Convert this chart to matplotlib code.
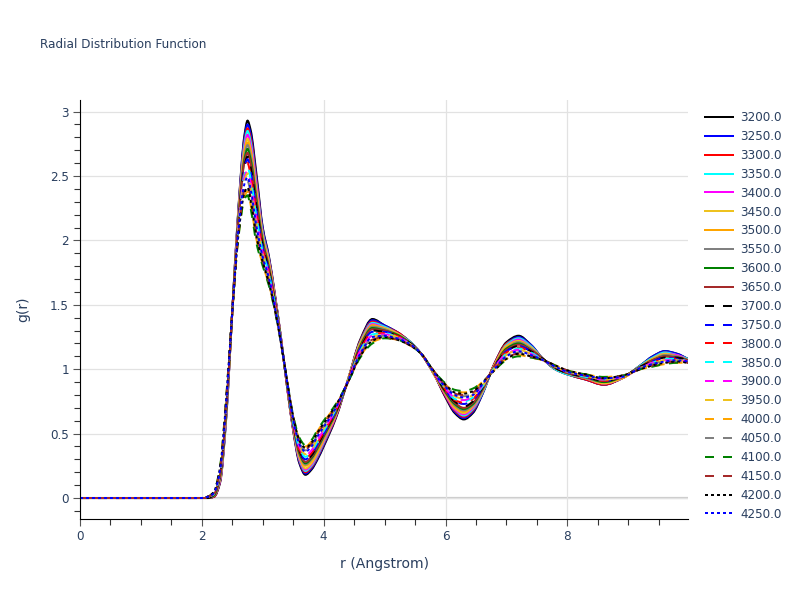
import numpy as np
import matplotlib
matplotlib.use("Agg")
from matplotlib import pyplot as plt
from matplotlib.ticker import MultipleLocator
from matplotlib.path import Path
from matplotlib.patches import PathPatch
from matplotlib.lines import Line2D

plt.rcParams['font.family'] = ['DejaVu Sans']

# radius grid (Angstrom)
r = [0.0, 2.0, 2.1, 2.2, 2.3, 2.4, 2.5, 2.6, 2.7, 2.75, 2.8, 2.9, 3.0, 3.1, 3.2, 3.3, 3.4, 3.5,
     3.6, 3.7, 3.8, 3.9, 4.0, 4.2, 4.4, 4.6, 4.8, 5.0, 5.2, 5.4, 5.6, 5.8, 6.0, 6.15, 6.3, 6.45,
     6.6, 6.8, 7.0, 7.2, 7.4, 7.6, 7.8, 8.0, 8.3, 8.6, 8.9, 9.2, 9.4, 9.6, 9.8, 9.98]

g_3200 = [0, 0, 0.0, 0.01, 0.12, 0.62, 1.45, 2.25, 2.82, 2.93, 2.86, 2.50, 2.10, 1.88, 1.58, 1.24, 0.86, 0.52, 0.27, 0.18, 0.22, 0.30, 0.40, 0.62, 0.92, 1.23, 1.39, 1.34, 1.29, 1.22, 1.12, 0.97, 0.78, 0.66, 0.61, 0.66, 0.80, 1.04, 1.21, 1.26, 1.19, 1.08, 1.00, 0.96, 0.92, 0.88, 0.93, 1.03, 1.10, 1.14, 1.12, 1.08]
g_3250 = [0, 0, 0.0, 0.01, 0.13, 0.63, 1.45, 2.24, 2.80, 2.90, 2.83, 2.47, 2.09, 1.87, 1.57, 1.24, 0.86, 0.53, 0.28, 0.19, 0.23, 0.31, 0.41, 0.63, 0.92, 1.22, 1.38, 1.34, 1.29, 1.22, 1.12, 0.97, 0.79, 0.67, 0.62, 0.67, 0.80, 1.04, 1.20, 1.25, 1.19, 1.08, 1.00, 0.96, 0.92, 0.88, 0.93, 1.03, 1.10, 1.14, 1.12, 1.08]
g_3300 = [0, 0, 0.0, 0.01, 0.13, 0.64, 1.45, 2.23, 2.77, 2.87, 2.80, 2.45, 2.07, 1.86, 1.57, 1.24, 0.86, 0.53, 0.29, 0.20, 0.24, 0.32, 0.42, 0.63, 0.92, 1.22, 1.37, 1.33, 1.29, 1.22, 1.12, 0.97, 0.79, 0.68, 0.63, 0.68, 0.81, 1.04, 1.20, 1.24, 1.18, 1.08, 1.00, 0.96, 0.92, 0.88, 0.93, 1.03, 1.09, 1.13, 1.11, 1.08]
g_3350 = [0, 0, 0.0, 0.02, 0.14, 0.64, 1.45, 2.22, 2.75, 2.85, 2.77, 2.42, 2.06, 1.85, 1.56, 1.23, 0.87, 0.54, 0.30, 0.21, 0.25, 0.33, 0.43, 0.64, 0.92, 1.21, 1.36, 1.33, 1.28, 1.22, 1.12, 0.97, 0.80, 0.69, 0.64, 0.69, 0.81, 1.03, 1.19, 1.24, 1.18, 1.08, 1.00, 0.96, 0.93, 0.89, 0.93, 1.03, 1.09, 1.13, 1.11, 1.08]
g_3400 = [0, 0, 0.0, 0.02, 0.14, 0.65, 1.45, 2.21, 2.72, 2.82, 2.74, 2.40, 2.04, 1.84, 1.56, 1.23, 0.87, 0.54, 0.31, 0.22, 0.26, 0.34, 0.44, 0.64, 0.92, 1.20, 1.35, 1.32, 1.28, 1.21, 1.12, 0.97, 0.80, 0.69, 0.65, 0.70, 0.82, 1.03, 1.18, 1.23, 1.17, 1.08, 1.01, 0.97, 0.93, 0.89, 0.93, 1.02, 1.08, 1.12, 1.11, 1.07]
g_3450 = [0, 0, 0.0, 0.02, 0.15, 0.66, 1.45, 2.20, 2.70, 2.79, 2.71, 2.37, 2.03, 1.83, 1.55, 1.23, 0.87, 0.55, 0.32, 0.23, 0.27, 0.35, 0.45, 0.65, 0.92, 1.20, 1.34, 1.32, 1.28, 1.21, 1.12, 0.97, 0.81, 0.70, 0.66, 0.71, 0.82, 1.03, 1.18, 1.22, 1.17, 1.08, 1.01, 0.97, 0.93, 0.89, 0.93, 1.02, 1.08, 1.12, 1.10, 1.07]
g_3500 = [0, 0, 0.0, 0.02, 0.16, 0.67, 1.45, 2.19, 2.68, 2.76, 2.69, 2.35, 2.01, 1.82, 1.54, 1.23, 0.87, 0.55, 0.33, 0.25, 0.29, 0.37, 0.46, 0.65, 0.92, 1.19, 1.34, 1.31, 1.27, 1.21, 1.12, 0.97, 0.81, 0.71, 0.67, 0.72, 0.83, 1.03, 1.17, 1.21, 1.16, 1.08, 1.01, 0.97, 0.93, 0.90, 0.93, 1.02, 1.08, 1.11, 1.10, 1.07]
g_3550 = [0, 0, 0.0, 0.02, 0.16, 0.67, 1.45, 2.17, 2.65, 2.74, 2.66, 2.32, 2.00, 1.80, 1.54, 1.23, 0.88, 0.56, 0.34, 0.26, 0.30, 0.38, 0.47, 0.66, 0.91, 1.18, 1.33, 1.31, 1.27, 1.21, 1.12, 0.98, 0.82, 0.72, 0.68, 0.72, 0.83, 1.02, 1.16, 1.21, 1.16, 1.08, 1.01, 0.97, 0.93, 0.90, 0.94, 1.02, 1.07, 1.11, 1.10, 1.07]
g_3600 = [0, 0, 0.0, 0.02, 0.17, 0.68, 1.45, 2.16, 2.63, 2.71, 2.63, 2.30, 1.99, 1.79, 1.53, 1.22, 0.88, 0.57, 0.35, 0.27, 0.31, 0.39, 0.48, 0.66, 0.91, 1.18, 1.32, 1.30, 1.27, 1.21, 1.12, 0.98, 0.82, 0.73, 0.69, 0.73, 0.84, 1.02, 1.16, 1.20, 1.15, 1.08, 1.01, 0.97, 0.94, 0.90, 0.94, 1.02, 1.07, 1.10, 1.09, 1.07]
g_3650 = [0, 0, 0.0, 0.03, 0.18, 0.69, 1.45, 2.15, 2.61, 2.68, 2.60, 2.27, 1.97, 1.78, 1.52, 1.22, 0.88, 0.57, 0.36, 0.28, 0.32, 0.40, 0.49, 0.67, 0.91, 1.17, 1.31, 1.30, 1.26, 1.21, 1.12, 0.98, 0.83, 0.74, 0.70, 0.74, 0.84, 1.02, 1.15, 1.19, 1.15, 1.08, 1.01, 0.97, 0.94, 0.91, 0.94, 1.02, 1.07, 1.10, 1.09, 1.07]
g_3700 = [0, 0, 0.0, 0.03, 0.18, 0.70, 1.45, 2.14, 2.58, 2.65, 2.57, 2.25, 1.96, 1.77, 1.52, 1.22, 0.88, 0.58, 0.37, 0.29, 0.33, 0.41, 0.50, 0.67, 0.91, 1.16, 1.30, 1.29, 1.26, 1.21, 1.12, 0.98, 0.83, 0.75, 0.71, 0.75, 0.85, 1.02, 1.14, 1.18, 1.14, 1.08, 1.01, 0.97, 0.94, 0.91, 0.94, 1.02, 1.06, 1.09, 1.09, 1.07]
g_3750 = [0, 0, 0.01, 0.03, 0.19, 0.70, 1.45, 2.13, 2.56, 2.63, 2.54, 2.22, 1.94, 1.76, 1.51, 1.22, 0.89, 0.58, 0.37, 0.30, 0.34, 0.42, 0.50, 0.68, 0.91, 1.16, 1.29, 1.29, 1.26, 1.20, 1.12, 0.98, 0.84, 0.75, 0.73, 0.76, 0.85, 1.01, 1.14, 1.18, 1.14, 1.07, 1.02, 0.98, 0.94, 0.91, 0.94, 1.01, 1.06, 1.09, 1.08, 1.06]
g_3800 = [0, 0, 0.01, 0.03, 0.19, 0.71, 1.45, 2.12, 2.53, 2.60, 2.51, 2.20, 1.93, 1.75, 1.51, 1.22, 0.89, 0.59, 0.38, 0.31, 0.35, 0.43, 0.51, 0.68, 0.91, 1.15, 1.28, 1.28, 1.26, 1.20, 1.12, 0.98, 0.84, 0.76, 0.74, 0.77, 0.86, 1.01, 1.13, 1.17, 1.13, 1.07, 1.02, 0.98, 0.94, 0.91, 0.94, 1.01, 1.05, 1.08, 1.08, 1.06]
g_3850 = [0, 0, 0.01, 0.03, 0.20, 0.72, 1.45, 2.11, 2.51, 2.57, 2.48, 2.17, 1.91, 1.74, 1.50, 1.22, 0.89, 0.59, 0.39, 0.32, 0.36, 0.44, 0.52, 0.69, 0.91, 1.14, 1.27, 1.28, 1.25, 1.20, 1.12, 0.98, 0.85, 0.77, 0.75, 0.78, 0.86, 1.01, 1.12, 1.16, 1.13, 1.07, 1.02, 0.98, 0.94, 0.92, 0.94, 1.01, 1.05, 1.08, 1.08, 1.06]
g_3900 = [0, 0, 0.01, 0.04, 0.21, 0.73, 1.45, 2.10, 2.49, 2.54, 2.45, 2.15, 1.90, 1.73, 1.49, 1.21, 0.89, 0.60, 0.40, 0.33, 0.37, 0.45, 0.53, 0.69, 0.91, 1.14, 1.26, 1.27, 1.25, 1.20, 1.12, 0.98, 0.85, 0.78, 0.76, 0.79, 0.87, 1.01, 1.12, 1.15, 1.12, 1.07, 1.02, 0.98, 0.95, 0.92, 0.94, 1.01, 1.05, 1.07, 1.07, 1.06]
g_3950 = [0, 0, 0.01, 0.04, 0.21, 0.73, 1.45, 2.09, 2.46, 2.52, 2.42, 2.12, 1.89, 1.72, 1.49, 1.21, 0.90, 0.61, 0.41, 0.34, 0.38, 0.46, 0.54, 0.70, 0.91, 1.13, 1.25, 1.27, 1.25, 1.20, 1.12, 0.98, 0.86, 0.79, 0.77, 0.80, 0.87, 1.00, 1.11, 1.15, 1.12, 1.07, 1.02, 0.98, 0.95, 0.92, 0.94, 1.01, 1.04, 1.07, 1.07, 1.06]
g_4000 = [0, 0, 0.01, 0.05, 0.24, 0.77, 1.45, 2.03, 2.34, 2.38, 2.28, 2.00, 1.81, 1.66, 1.46, 1.20, 0.91, 0.63, 0.46, 0.40, 0.44, 0.52, 0.59, 0.72, 0.90, 1.10, 1.21, 1.24, 1.23, 1.19, 1.12, 0.99, 0.88, 0.83, 0.82, 0.84, 0.90, 0.99, 1.08, 1.11, 1.09, 1.07, 1.03, 0.99, 0.96, 0.94, 0.95, 1.00, 1.02, 1.04, 1.05, 1.05]
g_4050 = [0, 0, 0.01, 0.04, 0.22, 0.75, 1.45, 2.06, 2.42, 2.46, 2.37, 2.07, 1.86, 1.69, 1.47, 1.21, 0.90, 0.62, 0.43, 0.37, 0.41, 0.49, 0.56, 0.71, 0.90, 1.12, 1.24, 1.26, 1.24, 1.20, 1.12, 0.99, 0.87, 0.81, 0.79, 0.81, 0.88, 1.00, 1.10, 1.13, 1.11, 1.07, 1.02, 0.98, 0.95, 0.93, 0.95, 1.01, 1.04, 1.06, 1.06, 1.06]
g_4100 = [0, 0, 0.01, 0.05, 0.25, 0.78, 1.45, 2.02, 2.32, 2.35, 2.25, 1.97, 1.80, 1.65, 1.45, 1.20, 0.91, 0.64, 0.47, 0.41, 0.45, 0.53, 0.60, 0.73, 0.90, 1.09, 1.20, 1.24, 1.23, 1.19, 1.12, 0.99, 0.89, 0.84, 0.83, 0.85, 0.90, 0.99, 1.07, 1.10, 1.09, 1.07, 1.03, 0.99, 0.96, 0.94, 0.95, 1.00, 1.02, 1.04, 1.05, 1.05]
g_4150 = [0, 0, 0.01, 0.04, 0.23, 0.76, 1.45, 2.05, 2.39, 2.43, 2.34, 2.05, 1.84, 1.68, 1.47, 1.21, 0.90, 0.62, 0.44, 0.38, 0.42, 0.50, 0.57, 0.71, 0.90, 1.11, 1.23, 1.25, 1.23, 1.19, 1.12, 0.99, 0.87, 0.81, 0.80, 0.82, 0.89, 1.00, 1.09, 1.12, 1.10, 1.07, 1.03, 0.99, 0.95, 0.93, 0.95, 1.00, 1.03, 1.05, 1.06, 1.05]
g_4200 = [0, 0, 0.01, 0.05, 0.24, 0.76, 1.45, 2.04, 2.37, 2.41, 2.31, 2.02, 1.83, 1.67, 1.46, 1.20, 0.91, 0.63, 0.45, 0.39, 0.43, 0.51, 0.58, 0.72, 0.90, 1.10, 1.22, 1.25, 1.23, 1.19, 1.12, 0.99, 0.88, 0.82, 0.81, 0.83, 0.89, 0.99, 1.08, 1.12, 1.10, 1.07, 1.03, 0.99, 0.96, 0.93, 0.95, 1.00, 1.03, 1.05, 1.06, 1.05]
g_4250 = [0, 0, 0.01, 0.04, 0.22, 0.74, 1.45, 2.08, 2.44, 2.49, 2.40, 2.10, 1.87, 1.71, 1.48, 1.21, 0.90, 0.61, 0.42, 0.36, 0.40, 0.48, 0.55, 0.70, 0.91, 1.12, 1.25, 1.26, 1.24, 1.20, 1.12, 0.98, 0.86, 0.80, 0.78, 0.80, 0.88, 1.00, 1.10, 1.14, 1.11, 1.07, 1.02, 0.98, 0.95, 0.93, 0.94, 1.01, 1.04, 1.06, 1.07, 1.06]

labels = ["3200.0", "3250.0", "3300.0", "3350.0", "3400.0", "3450.0", "3500.0", "3550.0",
          "3600.0", "3650.0", "3700.0", "3750.0", "3800.0", "3850.0", "3900.0", "3950.0",
          "4000.0", "4050.0", "4100.0", "4150.0", "4200.0", "4250.0"]
curves = [g_3200, g_3250, g_3300, g_3350, g_3400, g_3450, g_3500, g_3550, g_3600, g_3650,
          g_3700, g_3750, g_3800, g_3850, g_3900, g_3950, g_4000, g_4050, g_4100, g_4150,
          g_4200, g_4250]

palette = ["black", "blue", "red", "cyan", "magenta", "#eec21f", "orange", "gray", "green", "brown"]
txt = "#2a3f5f"


def smooth_path(x, y):
    # smooth line through the points (monotone cubic segments, like a spline line shape)
    x = np.asarray(x, float)
    y = np.asarray(y, float)
    h = np.diff(x)
    d = np.diff(y) / h
    m = np.zeros_like(y)
    m[0], m[-1] = d[0], d[-1]
    for i in range(1, len(x) - 1):
        if d[i - 1] * d[i] > 0:
            w1 = 2 * h[i] + h[i - 1]
            w2 = h[i] + 2 * h[i - 1]
            m[i] = (w1 + w2) / (w1 / d[i - 1] + w2 / d[i])
    verts = [(x[0], y[0])]
    codes = [Path.MOVETO]
    for i in range(len(x) - 1):
        verts += [(x[i] + h[i] / 3, y[i] + m[i] * h[i] / 3),
                  (x[i + 1] - h[i] / 3, y[i + 1] - m[i + 1] * h[i] / 3),
                  (x[i + 1], y[i + 1])]
        codes += [Path.CURVE4] * 3
    return Path(verts, codes)


fig = plt.figure(figsize=(8, 6), dpi=100)
ax = fig.add_axes([0.1, 0.135, 0.76, 0.6983])

lw = 1.44  # 2 px
handles = []
for i, (lab, g) in enumerate(zip(labels, curves)):
    col = palette[i % 10]
    if i < 10:
        ls = "-"
    elif i < 20:
        ls = (0, (4.5, 4.5))
    else:
        ls = (0, (1.5, 1.5))
    ax.add_patch(PathPatch(smooth_path(r, g), fill=False, edgecolor=col, lw=lw,
                           linestyle=ls, zorder=2 + i * 0.01, capstyle="butt"))
    handles.append(Line2D([], [], color=col, lw=lw, linestyle=ls, label=lab))

ax.set_xlim(0, 9.98)
ax.set_ylim(-0.163, 3.09)
ax.xaxis.set_major_locator(MultipleLocator(2))
ax.xaxis.set_minor_locator(MultipleLocator(0.5))
ax.yaxis.set_minor_locator(MultipleLocator(0.1))
ax.set_yticks([0, 0.5, 1, 1.5, 2, 2.5, 3])
ax.set_yticklabels(["0", "0.5", "1", "1.5", "2", "2.5", "3"])

ax.grid(True, which="major", color="#e2e2e2", lw=0.9, zorder=0)
ax.set_axisbelow(True)
ax.axhline(0, color="#cccccc", lw=1.6, zorder=0.5)

for s in ["top", "right"]:
    ax.spines[s].set_visible(False)
for s in ["left", "bottom"]:
    ax.spines[s].set_color("black")
    ax.spines[s].set_linewidth(0.8)

ax.tick_params(which="major", direction="out", length=5, width=0.8, color="#555555",
               labelsize=8.64, labelcolor=txt, pad=3)
ax.tick_params(which="minor", direction="out", length=4, width=0.8, color="#333333")

ax.set_xlabel("r (Angstrom)", fontsize=10.08, color=txt, labelpad=10)
ax.set_ylabel("g(r)", fontsize=10.08, color=txt, labelpad=14)

fig.text(0.05, 1 - 45 / 600, "Radial Distribution Function", fontsize=8.64, color=txt, va="center")

leg = ax.legend(handles=handles, loc="upper left", bbox_to_anchor=(1.02, 0.985), frameon=False,
                fontsize=8.64, handlelength=2.3, handletextpad=0.65, labelspacing=0.49,
                borderaxespad=0)
for t in leg.get_texts():
    t.set_color(txt)

plt.savefig("out.png", dpi=100)
